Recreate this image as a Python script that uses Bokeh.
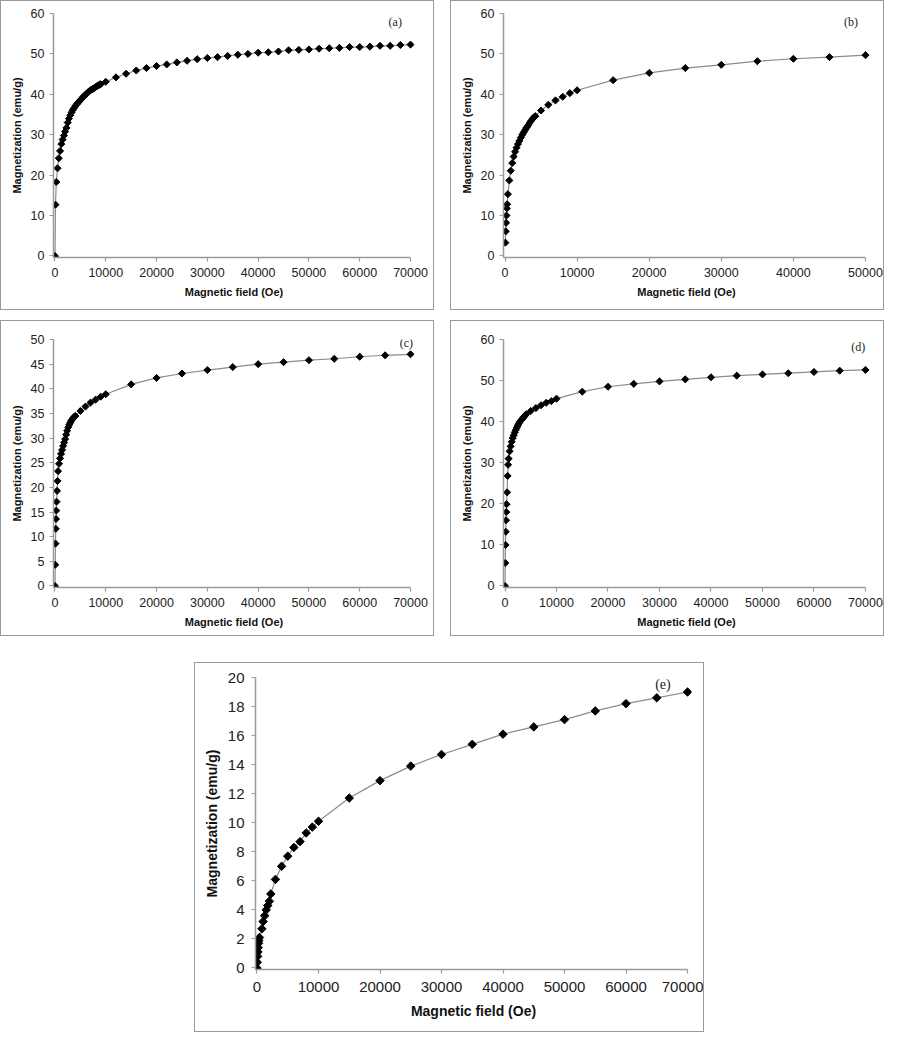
import math
from bokeh.plotting import figure
from bokeh.models import Range1d, FixedTicker, Label, Spacer
from bokeh.layouts import column, row
from bokeh.embed import file_html
from bokeh.resources import INLINE

# ---------------- data ----------------
field_a = [0, 100, 250, 500, 750, 1000, 1250, 1500, 1750, 2000, 2250, 2500, 2750,
           3000, 3250, 3500, 3750, 4000, 4250, 4500, 4750, 5000, 5250, 5500, 5750,
           6000, 6250, 6500, 6750, 7000, 7250, 7500, 7750, 8000, 8250, 8500, 8750, 9000,
           10000, 12000, 14000, 16000, 18000, 20000, 22000, 24000, 26000, 28000, 30000,
           32000, 34000, 36000, 38000, 40000, 42000, 44000, 46000, 48000, 50000,
           52000, 54000, 56000, 58000, 60000, 62000, 64000, 66000, 68000, 70000]
mag_a = [0, 12.7, 18.3, 21.7, 24.2, 26.0, 27.7, 28.8, 29.8, 30.8, 31.7, 33.0, 34.0,
         34.8, 35.5, 36.1, 36.6, 37.1, 37.5, 37.9, 38.2, 38.6, 38.9, 39.3, 39.6,
         39.9, 40.2, 40.5, 40.8, 41.0, 41.2, 41.4, 41.6, 41.8, 42.0, 42.2, 42.4, 42.5,
         43.1, 44.2, 45.1, 45.9, 46.5, 47.0, 47.4, 47.9, 48.3, 48.7, 49.0,
         49.2, 49.5, 49.8, 50.0, 50.3, 50.4, 50.6, 50.9, 51.0, 51.1,
         51.3, 51.4, 51.5, 51.7, 51.7, 51.8, 52.0, 52.0, 52.2, 52.3]

field_b = [50, 100, 150, 200, 250, 300, 400, 600, 800, 1000, 1200, 1400, 1600, 1800,
           2000, 2200, 2400, 2600, 2800, 3000, 3200, 3400, 3600, 3800, 4000, 4200,
           5000, 6000, 7000, 8000, 9000, 10000, 15000, 20000, 25000, 30000, 35000,
           40000, 45000, 50000]
mag_b = [3.3, 6.1, 8.2, 10.0, 11.8, 12.8, 15.3, 18.7, 21.1, 23.0, 24.6, 25.8, 26.8, 27.7,
         28.5, 29.3, 30.0, 30.6, 31.2, 31.8, 32.3, 32.9, 33.4, 33.9, 34.3, 34.6,
         36.0, 37.4, 38.5, 39.4, 40.3, 41.0, 43.5, 45.3, 46.5, 47.3, 48.2,
         48.8, 49.2, 49.7]

field_c = [0, 50, 100, 150, 200, 250, 300, 400, 500, 600, 800, 1000, 1200, 1400, 1600,
           1800, 2000, 2200, 2400, 2600, 2800, 3000, 3200, 3400, 3600, 3800, 4000,
           5000, 6000, 7000, 8000, 9000, 10000, 15000, 20000, 25000, 30000, 35000,
           40000, 45000, 50000, 55000, 60000, 65000, 70000]
mag_c = [0, 4.3, 8.6, 11.6, 13.6, 15.3, 17.1, 19.3, 21.3, 23.3, 24.8, 25.9, 26.8, 27.6, 28.4,
         29.1, 29.8, 30.7, 31.5, 32.2, 32.7, 33.1, 33.5, 33.8, 34.1, 34.3, 34.5,
         35.5, 36.4, 37.2, 37.8, 38.4, 38.9, 40.9, 42.2, 43.1, 43.8, 44.4,
         45.0, 45.4, 45.8, 46.1, 46.5, 46.8, 47.0]

field_d = [0, 50, 100, 150, 200, 250, 300, 400, 500, 600, 700, 900, 1100, 1300, 1500,
           1700, 1900, 2100, 2300, 2500, 2700, 2900, 3100, 3300, 3500, 3700, 3900, 4100,
           5000, 6000, 7000, 8000, 9000, 10000, 15000, 20000, 25000, 30000, 35000,
           40000, 45000, 50000, 55000, 60000, 65000, 70000]
mag_d = [0, 5.6, 10.0, 13.2, 16.0, 18.0, 19.9, 22.8, 26.8, 29.5, 31.0, 32.8, 34.0, 35.1, 36.0,
         36.7, 37.4, 38.0, 38.6, 39.1, 39.6, 40.0, 40.3, 40.6, 40.9, 41.2, 41.5, 41.8,
         42.6, 43.3, 44.0, 44.6, 45.0, 45.6, 47.3, 48.5, 49.2, 49.8, 50.3,
         50.8, 51.2, 51.5, 51.8, 52.1, 52.4, 52.6]

field_e = [0, 50, 100, 150, 200, 250, 300, 400, 800, 1000, 1250, 1500, 1750, 2000, 2250,
           3000, 4000, 5000, 6000, 7000, 8000, 9000, 10000, 15000, 20000, 25000, 30000,
           35000, 40000, 45000, 50000, 55000, 60000, 65000, 70000]
mag_e = [0, 0.4, 0.8, 1.1, 1.4, 1.7, 1.9, 2.1, 2.7, 3.2, 3.6, 4.0, 4.3, 4.6, 5.1,
         6.1, 7.0, 7.7, 8.3, 8.7, 9.3, 9.7, 10.1, 11.7, 12.9, 13.9, 14.7,
         15.4, 16.1, 16.6, 17.1, 17.7, 18.2, 18.6, 19.0]

x_ticks_70 = [0, 10000, 20000, 30000, 40000, 50000, 60000, 70000]
x_ticks_50 = [0, 10000, 20000, 30000, 40000, 50000]
y_ticks_60 = [0, 10, 20, 30, 40, 50, 60]
y_ticks_50 = [0, 5, 10, 15, 20, 25, 30, 35, 40, 45, 50]
y_ticks_20 = [0, 2, 4, 6, 8, 10, 12, 14, 16, 18, 20]

x_label = "Magnetic field (Oe)"
y_label = "Magnetization (emu/g)"

AXIS_COL = "#9a9a9a"
FONT = "Liberation Sans"
PAD_L, PAD_R, PAD_B = 1.5, 4.0, 1.5   # pixel room so edge markers are not cut


def panel(xs, ys, xmax, ymax, xt, yt, tag, tag_xy, w, h, borders,
          tick_fs, lab_fs, tag_fs, msize, lab_stand):
    bl, br, bt, bb = borders          # distances from box edge to axis 0 / axis max
    fw = w - bl - br
    fh = h - bt - bb
    dx = xmax / fw
    dy = ymax / fh
    p = figure(width=w, height=h, output_backend="svg", toolbar_location=None,
               x_range=Range1d(-PAD_L * dx, xmax + PAD_R * dx),
               y_range=Range1d(-PAD_B * dy, ymax),
               min_border_left=int(round(bl - PAD_L)), min_border_right=int(round(br - PAD_R)),
               min_border_top=bt, min_border_bottom=int(round(bb - PAD_B)))
    p.grid.visible = False
    p.outline_line_color = None
    p.background_fill_color = "white"
    p.border_fill_color = "white"
    p.line(xs, ys, line_color="#8c8c8c", line_width=1.2)
    p.scatter(xs, ys, marker="square", angle=math.pi / 4, size=msize,
              fill_color="black", line_color="black")
    p.xaxis.ticker = FixedTicker(ticks=xt)
    p.yaxis.ticker = FixedTicker(ticks=yt)
    p.xaxis.bounds = (-PAD_L * dx, xmax)
    for ax in (p.xaxis, p.yaxis):
        ax.axis_line_color = AXIS_COL
        ax.axis_line_width = 1.5
        ax.major_tick_line_color = AXIS_COL
        ax.major_tick_line_width = 1.2
        ax.major_tick_out = 4
        ax.major_tick_in = 0
        ax.minor_tick_line_color = None
        ax.major_label_text_font = FONT
        ax.major_label_text_font_size = tick_fs
        ax.major_label_text_color = "#222222"
        ax.axis_label_text_font = FONT
        ax.axis_label_text_font_size = lab_fs
        ax.axis_label_text_font_style = "bold"
        ax.axis_label_text_color = "#111111"
    p.xaxis.axis_label = x_label
    p.yaxis.axis_label = y_label
    p.xaxis.major_label_standoff = lab_stand[0]
    p.xaxis.axis_label_standoff = lab_stand[1]
    p.yaxis.major_label_standoff = lab_stand[2]
    p.yaxis.axis_label_standoff = lab_stand[3]
    p.add_layout(Label(x=tag_xy[0], y=tag_xy[1], text=tag, text_font="Liberation Serif",
                       text_font_size=tag_fs, text_color="#222222",
                       text_align="center", text_baseline="middle"))
    p.styles = {"border": "1.5px solid #9a9a9a"}
    return p


pa = panel(field_a, mag_a, 70000, 60, x_ticks_70, y_ticks_60, "(a)", (67000, 58),
           434, 310, (53, 25, 12, 56), "12.5px", "11px", "12px", 5, (6, 6, 5, 5))
pb = panel(field_b, mag_b, 50000, 60, x_ticks_50, y_ticks_60, "(b)", (48000, 58),
           434, 310, (54, 20, 12, 56), "12.5px", "11px", "12px", 5, (6, 6, 5, 5))
pc = panel(field_c, mag_c, 70000, 50, x_ticks_70, y_ticks_50, "(c)", (69200, 49.2),
           434, 316, (53, 25, 18, 52), "12.5px", "11px", "12px", 5, (6, 6, 5, 5))
pd = panel(field_d, mag_d, 70000, 60, x_ticks_70, y_ticks_60, "(d)", (68600, 58.2),
           434, 316, (54, 20, 18, 52), "12.5px", "11px", "12px", 5, (6, 6, 5, 5))
pe = panel(field_e, mag_e, 70000, 20, x_ticks_70, y_ticks_20, "(e)", (66000, 19.55),
           510, 370, (61, 18, 14, 66), "15px", "14px", "14px", 6, (8, 8, 7, 5))

layout = column(
    row(pa, Spacer(width=16), pb),
    Spacer(height=10),
    row(pc, Spacer(width=16), pd),
    Spacer(height=26),
    row(Spacer(width=194), pe),
)

open("out.html", "w").write(file_html(layout, INLINE))
